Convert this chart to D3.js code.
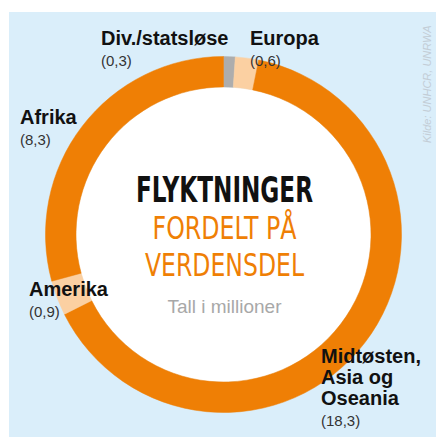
<!DOCTYPE html>
<meta charset="utf-8">
<style>
    body {
        margin: 0;
        background: #fff;
    }

    svg {
        display: block;
        font-family: "Liberation Sans", Arial, sans-serif;
    }
</style>
<body>
<script src="https://cdn.jsdelivr.net/npm/d3@7"></script>
<script>
    // data (millions of refugees)
    const regions = ["Div./statsløse", "Europa", "Midtøsten, Asia og Oseania", "Amerika", "Afrika"];
    const values = [0.3, 0.6, 18.3, 0.9, 8.3];
    const regionColors = ["#adadad", "#fbd0a2", "#ef7f05", "#fbd0a2", "#ef7f05"];
    const titleLines = ["FLYKTNINGER", "FORDELT PÅ", "VERDENSDEL"];
    const subtitle = "Tall i millioner";
    const source = "Kilde: UNHCR, UNRWA";

    const width = 436;
    const height = 437;
    const cx = 223.5, cy = 234.5;
    const outerR = 178, innerR = 147.5;

    // label anchor per region (left x, baseline of first line)
    const labelPos = [
        {x: 101, y: 45},
        {x: 250, y: 45},
        {x: 321, y: 363},
        {x: 29, y: 296},
        {x: 20, y: 124}
    ];

    const fmt = d => "(" + d3.format(".1f")(d).replace(".", ",") + ")";

    const color = d3.scaleOrdinal().domain(regions).range(regionColors);

    const svg = d3.select("body")
        .append("svg")
        .attr("width", width)
        .attr("height", height);

    // light blue panel
    svg.append("rect")
        .attr("x", 9)
        .attr("y", 12)
        .attr("width", width - 9)
        .attr("height", height - 12)
        .attr("fill", "#daeefa");

    const chart = svg.append("g")
        .attr("transform", "translate(" + cx + "," + cy + ")");

    chart.append("circle")
        .attr("r", innerR)
        .attr("fill", "#fff");

    const pie = d3.pie().sort(null).value(d => d.value);
    const arc = d3.arc().innerRadius(innerR).outerRadius(outerR);

    const slices = pie(regions.map((r, i) => ({region: r, value: values[i]})));

    chart.selectAll("path.slice")
        .data(slices)
        .enter().append("path")
        .attr("class", "slice")
        .attr("d", arc)
        .attr("fill", d => color(d.data.region))
        .attr("stroke", d => color(d.data.region))
        .attr("stroke-width", 0.5);

    // region labels
    const labels = svg.selectAll("g.label")
        .data(slices)
        .enter().append("g")
        .attr("class", "label")
        .attr("transform", (d, i) => "translate(" + labelPos[i].x + "," + labelPos[i].y + ")");

    labels.each(function(d) {
        const g = d3.select(this);
        const lines = d.data.region === "Midtøsten, Asia og Oseania"
            ? ["Midtøsten,", "Asia og", "Oseania"]
            : [d.data.region];
        lines.forEach((t, j) => {
            g.append("text")
                .attr("y", j * 21)
                .style("font-size", "20px")
                .style("font-weight", "bold")
                .attr("fill", "#111")
                .text(t);
        });
        g.append("text")
            .attr("y", lines.length * 21)
            .style("font-size", "15px")
            .attr("fill", "#333")
            .text(fmt(d.data.value));
    });

    // centre title
    const title = svg.append("g").attr("text-anchor", "middle");
    const titleSpec = [
        {y: 201.5, len: 177, fill: "#111", weight: "bold", size: 35},
        {y: 239, len: 144, fill: "#ef7f05", weight: "normal", size: 32},
        {y: 276, len: 159, fill: "#ef7f05", weight: "normal", size: 32}
    ];
    titleLines.forEach((t, i) => {
        const s = titleSpec[i];
        title.append("text")
            .attr("x", cx + 1)
            .attr("y", s.y)
            .attr("textLength", s.len)
            .attr("lengthAdjust", "spacingAndGlyphs")
            .style("font-family", "'Liberation Sans Narrow', 'DejaVu Sans Condensed', 'Liberation Sans', sans-serif")
            .style("font-size", s.size + "px")
            .style("font-weight", s.weight)
            .attr("fill", s.fill)
            .text(t);
    });

    title.append("text")
        .attr("x", cx + 1)
        .attr("y", 313)
        .style("font-size", "19px")
        .attr("fill", "#a8a8a8")
        .text(subtitle);

    // source, rotated along the right edge
    svg.append("text")
        .attr("transform", "translate(431,143) rotate(-90)")
        .style("font-size", "11px")
        .style("font-style", "italic")
        .attr("fill", "#c3cdd6")
        .text(source);
</script>
</body>
</html>
